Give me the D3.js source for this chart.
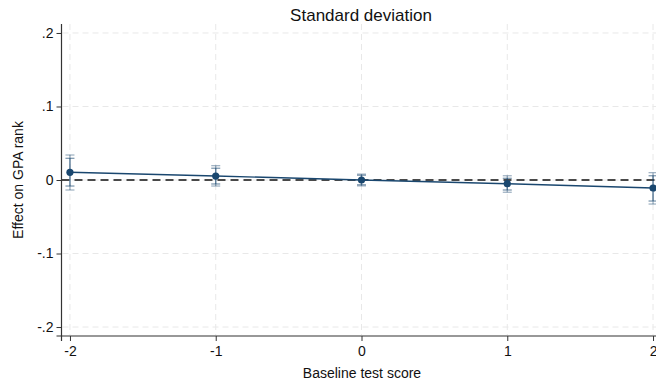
<!DOCTYPE html>
<html>
<head>
<meta charset="utf-8">
<script src="https://cdn.jsdelivr.net/npm/d3@7"></script>
<style>
  html, body { margin: 0; padding: 0; background: #fff; }
  svg { display: block; font-family: "Liberation Sans", Arial, sans-serif; }
</style>
</head>
<body>
<svg id="chart" width="656" height="383"></svg>
<script>
// Baseline test score (SD units) and estimated effect on GPA rank
const scores = [-2, -1, 0, 1, 2];
const effect = [0.0105, 0.0054, 0.0, -0.0050, -0.0109];
// 95% confidence bounds
const ci95Low  = [-0.0136, -0.0082, -0.0080, -0.0167, -0.0327];
const ci95High = [0.0340, 0.0195, 0.0080, 0.0058, 0.0100];
// 90% confidence bounds
const ci90Low  = [-0.0082, -0.0054, -0.0065, -0.0136, -0.0286];
const ci90High = [0.0295, 0.0160, 0.0065, 0.0023, 0.0058];

const yTicks = [-0.2, -0.1, 0, 0.1, 0.2];
const xTicks = [-2, -1, 0, 1, 2];
const fmtY = d => d === 0 ? "0" : d3.format(".1f")(d).replace("0.", ".").replace("−", "-");

const rows = scores.map((s, i) => ({
  s, e: effect[i], l95: ci95Low[i], h95: ci95High[i], l90: ci90Low[i], h90: ci90High[i]
}));

const svg = d3.select("#chart");
const x = d3.scaleLinear().domain([-2.058, 2.058]).range([61.5, 661.5]);
const y = d3.scaleLinear().domain([-0.2122, 0.2122]).range([336, 24]);
const navy = "#1a476f";

// grid
const grid = svg.append("g").attr("stroke", "#e8e8e8").attr("stroke-width", 1)
  .attr("stroke-dasharray", "6,4");
grid.selectAll(".gy").data(yTicks).join("line")
  .attr("x1", x.range()[0] + 1).attr("x2", 656)
  .attr("y1", d => y(d)).attr("y2", d => y(d));
grid.selectAll(".gx").data(xTicks).join("line")
  .attr("x1", d => x(d)).attr("x2", d => x(d))
  .attr("y1", 24).attr("y2", 335);

// zero reference line
svg.append("line")
  .attr("x1", x.range()[0]).attr("x2", 656)
  .attr("y1", y(0)).attr("y2", y(0))
  .attr("stroke", "#111").attr("stroke-width", 1.4).attr("stroke-dasharray", "8,5");

// axes
const yAxis = d3.axisLeft(y).tickValues(yTicks).tickFormat(fmtY).tickSize(5).tickPadding(3);
const gy = svg.append("g").attr("transform", `translate(${x.range()[0]},0)`).call(yAxis);
const xAxis = d3.axisBottom(x).tickValues(xTicks).tickFormat(d => d < 0 ? "-" + Math.abs(d) : String(d))
  .tickSize(5).tickPadding(5);
const gx = svg.append("g").attr("transform", `translate(0,${y.range()[0]})`).call(xAxis);
[gx, gy].forEach(g => {
  g.select(".domain").attr("stroke", "#333").attr("stroke-width", 1.2);
  g.selectAll(".tick line").attr("stroke", "#333");
  g.selectAll(".tick text").attr("font-size", 14).attr("fill", "#111")
    .attr("font-family", '"Liberation Sans", Arial, sans-serif');
});
gy.select(".domain").attr("d", `M-5,${y.range()[0]}H0V${y.range()[1]}`);
gx.select(".domain").attr("d", `M${x.range()[0]},5V0H${x.range()[1]}`);

// confidence intervals
function drawCI(lo, hi, opacity, capW) {
  const g = svg.append("g").attr("stroke", navy).attr("stroke-opacity", opacity).attr("stroke-width", 1.3);
  g.selectAll(".v").data(rows).join("line")
    .attr("x1", d => x(d.s)).attr("x2", d => x(d.s))
    .attr("y1", d => y(d[lo])).attr("y2", d => y(d[hi]));
  [lo, hi].forEach(k => {
    g.selectAll(".c" + k).data(rows).join("line")
      .attr("x1", d => x(d.s) - capW).attr("x2", d => x(d.s) + capW)
      .attr("y1", d => y(d[k])).attr("y2", d => y(d[k]));
  });
}
drawCI("l95", "h95", 0.4, 4.5);
drawCI("l90", "h90", 0.55, 4.5);

// point estimates
svg.append("path").datum(rows)
  .attr("fill", "none").attr("stroke", navy).attr("stroke-width", 1.4)
  .attr("d", d3.line().x(d => x(d.s)).y(d => y(d.e)));
svg.selectAll(".pt").data(rows).join("circle")
  .attr("cx", d => x(d.s)).attr("cy", d => y(d.e)).attr("r", 3.6).attr("fill", navy);

// titles
svg.append("text").attr("x", 361).attr("y", 21).attr("text-anchor", "middle")
  .attr("font-size", 17).attr("fill", "#111").text("Standard deviation");
svg.append("text").attr("x", 362).attr("y", 378).attr("text-anchor", "middle")
  .attr("font-size", 14).attr("fill", "#111").text("Baseline test score");
svg.append("text").attr("transform", "translate(23,180) rotate(-90)").attr("text-anchor", "middle")
  .attr("font-size", 14).attr("fill", "#111").text("Effect on GPA rank");
</script>
</body>
</html>
